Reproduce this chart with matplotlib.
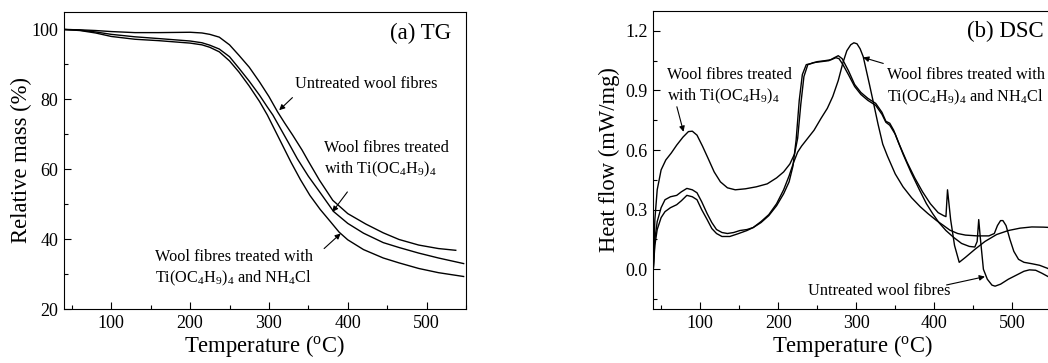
import matplotlib
matplotlib.use("Agg")
import matplotlib.pyplot as plt
from matplotlib.ticker import MultipleLocator

plt.rcParams['font.family'] = ['Liberation Serif', 'DejaVu Serif']
plt.rcParams['mathtext.fontset'] = 'custom'
plt.rcParams['mathtext.rm'] = 'Liberation Serif'
plt.rcParams['mathtext.it'] = 'Liberation Serif:italic'
plt.rcParams['mathtext.bf'] = 'Liberation Serif:bold'

# ---------------- TG data ----------------
tg_untreated_x = [40, 60, 80, 100, 130, 160, 200, 215, 225, 237, 250, 262, 275, 288, 300, 311, 320,
                  330, 342, 350, 364, 381, 400, 423, 445, 465, 490, 515, 537]
tg_untreated_y = [100, 99.9, 99.7, 99.4, 99.1, 99.1, 99.2, 99.0, 98.6, 97.8, 95.6, 92.6, 89.2, 85.0,
                  80.8, 76.4, 73.2, 69.8, 65.5, 62.3, 56.9, 51.1, 47.3, 44.3, 41.8, 39.9, 38.3, 37.3, 36.8]

tg_ti_x = [40, 60, 80, 100, 130, 160, 200, 215, 225, 237, 250, 262, 275, 288, 298, 305, 315, 325,
           336, 350, 365, 382, 400, 420, 445, 465, 490, 515, 547]
tg_ti_y = [100, 99.8, 99.3, 98.6, 97.9, 97.4, 96.7, 96.2, 95.5, 94.4, 92.2, 88.9, 85.2, 81.2, 77.8,
           75.5, 71.5, 67.5, 63.0, 58.0, 53.3, 47.9, 44.5, 41.7, 39.0, 37.6, 36.0, 34.6, 33.0]

tg_nh4_x = [40, 60, 80, 100, 130, 160, 200, 215, 225, 237, 250, 262, 275, 288, 298, 308, 318, 328,
            340, 352, 365, 378, 389, 400, 420, 445, 465, 490, 515, 547]
tg_nh4_y = [100, 99.7, 99.0, 98.0, 97.2, 96.8, 96.1, 95.6, 94.9, 93.6, 91.0, 87.8, 83.8, 79.4, 75.5,
            71.0, 66.5, 62.0, 57.0, 52.5, 48.5, 45.0, 42.0, 39.8, 37.0, 34.6, 33.2, 31.6, 30.4, 29.3]

# ---------------- DSC data ----------------
dsc_ti_x = [40, 42, 45, 50, 56, 63, 70, 78, 85, 90, 96, 103, 110, 118, 126, 135, 145, 158, 172, 186,
            198, 207, 215, 221, 225, 229, 233, 238, 245, 255, 265, 272, 277, 282, 290, 298, 306, 315,
            325, 333, 338, 343, 348, 355, 365, 375, 385, 395, 405, 412, 415, 417, 421, 426, 432, 440,
            452, 465, 480, 495, 510, 525, 540, 550]
dsc_ti_y = [0.0, 0.25, 0.40, 0.50, 0.55, 0.585, 0.625, 0.665, 0.693, 0.695, 0.675, 0.62, 0.56, 0.49,
            0.44, 0.41, 0.40, 0.405, 0.415, 0.43, 0.46, 0.49, 0.53, 0.58, 0.66, 0.83, 0.97, 1.03, 1.04,
            1.045, 1.05, 1.065, 1.075, 1.06, 1.00, 0.93, 0.89, 0.86, 0.835, 0.79, 0.745, 0.735, 0.70,
            0.63, 0.54, 0.46, 0.39, 0.33, 0.285, 0.27, 0.265, 0.40, 0.25, 0.12, 0.035, 0.06, 0.10,
            0.14, 0.175, 0.195, 0.207, 0.213, 0.212, 0.21]

dsc_untreated_x = [40, 42, 45, 50, 55, 62, 70, 76, 83, 90, 96, 102, 109, 115, 121, 128, 135, 143, 151,
                   160, 168, 178, 188, 198, 207, 214, 219, 223, 227, 231, 236, 242, 250, 260, 268, 274,
                   278, 283, 290, 298, 306, 315, 325, 333, 338, 343, 350, 360, 370, 381, 390, 398, 406,
                   415, 425, 435, 445, 452, 455, 457, 459, 463, 468, 474, 478, 485, 495, 505, 515, 522,
                   530, 538, 545, 550]
dsc_untreated_y = [0.0, 0.15, 0.24, 0.31, 0.35, 0.365, 0.372, 0.39, 0.407, 0.40, 0.385, 0.34, 0.28,
                   0.235, 0.20, 0.185, 0.18, 0.185, 0.195, 0.20, 0.21, 0.235, 0.27, 0.32, 0.38, 0.44,
                   0.52, 0.65, 0.85, 0.98, 1.03, 1.035, 1.045, 1.05, 1.055, 1.065, 1.06, 1.03, 0.98,
                   0.92, 0.88, 0.85, 0.825, 0.78, 0.74, 0.725, 0.68, 0.58, 0.49, 0.40, 0.33, 0.28,
                   0.235, 0.195, 0.16, 0.13, 0.115, 0.112, 0.14, 0.25, 0.16, 0.0, -0.05, -0.08, -0.085,
                   -0.075, -0.05, -0.03, -0.01, -0.003, -0.005, -0.02, -0.035, -0.045]

dsc_nh4_x = [40, 42, 45, 50, 55, 62, 70, 76, 83, 90, 96, 102, 109, 115, 121, 128, 138, 148, 160, 168,
             178, 188, 198, 207, 214, 220, 225, 230, 238, 246, 255, 263, 270, 277, 283, 288, 293, 297,
             301, 305, 309, 313, 317, 322, 328, 334, 340, 350, 360, 371, 382, 392, 403, 412, 420, 430,
             440, 455, 470, 477, 481, 485, 488, 492, 497, 502, 508, 515, 525, 535, 545, 550]
dsc_nh4_y = [0.0, 0.12, 0.2, 0.26, 0.29, 0.31, 0.325, 0.345, 0.372, 0.365, 0.35, 0.30, 0.25, 0.205,
             0.18, 0.165, 0.165, 0.178, 0.195, 0.21, 0.24, 0.275, 0.33, 0.40, 0.47, 0.54, 0.59, 0.62,
             0.66, 0.70, 0.76, 0.81, 0.87, 0.95, 1.04, 1.10, 1.13, 1.14, 1.135, 1.11, 1.07, 1.0, 0.93,
             0.84, 0.73, 0.63, 0.57, 0.48, 0.415, 0.36, 0.315, 0.28, 0.245, 0.22, 0.197, 0.18, 0.172,
             0.168, 0.168, 0.18, 0.22, 0.245, 0.245, 0.22, 0.15, 0.09, 0.05, 0.035, 0.028, 0.02,
             0.005, -0.005]

TI = r'Ti(OC$_4$H$_9$)$_4$'
NH4 = r'NH$_4$Cl'
lab_untreated = 'Untreated wool fibres'
lab_ti = 'Wool fibres treated\nwith ' + TI
lab_nh4 = 'Wool fibres treated with\n' + TI + ' and ' + NH4

W, H = 1048, 363
fig = plt.figure(figsize=(W / 100, H / 100), dpi=100)

ax1 = fig.add_axes([64 / W, (H - 309) / H, 402 / W, 297 / H])
ax2 = fig.add_axes([653.3 / W, (H - 309) / H, 398 / W, 298 / H])

lw = 1.0
for x, y in [(tg_untreated_x, tg_untreated_y), (tg_ti_x, tg_ti_y), (tg_nh4_x, tg_nh4_y)]:
    ax1.plot(x, y, color='black', lw=lw)
for x, y in [(dsc_ti_x, dsc_ti_y), (dsc_untreated_x, dsc_untreated_y), (dsc_nh4_x, dsc_nh4_y)]:
    ax2.plot(x, y, color='black', lw=lw)

tick_fs = 13
lab_fs = 16.3
ann_fs = 11.7

def style(ax):
    for s in ax.spines.values():
        s.set_linewidth(0.8)
    ax.tick_params(which='both', direction='in', top=False, right=False, labelsize=tick_fs,
                   width=0.8, pad=4)
    ax.tick_params(which='major', length=5)
    ax.tick_params(which='minor', length=3)
    ax.set_xlim(40, 550)
    ax.xaxis.set_major_locator(MultipleLocator(100))
    ax.xaxis.set_minor_locator(MultipleLocator(50))
    ax.set_xlabel(r'Temperature ($^{\mathrm{o}}$C)', fontsize=lab_fs, labelpad=1)

style(ax1)
ax1.set_ylim(20, 105)
ax1.yaxis.set_major_locator(MultipleLocator(20))
ax1.yaxis.set_minor_locator(MultipleLocator(10))
ax1.set_ylabel('Relative mass (%)', fontsize=lab_fs, labelpad=0)

style(ax2)
ax2.set_ylim(-0.2, 1.3)
ax2.yaxis.set_major_locator(MultipleLocator(0.3))
ax2.yaxis.set_minor_locator(MultipleLocator(0.15))
ax2.yaxis.set_major_formatter(matplotlib.ticker.FormatStrFormatter('%.1f'))
ax2.set_ylabel('Heat flow (mW/mg)', fontsize=lab_fs, labelpad=4)

arrow = dict(arrowstyle='-|>', color='black', lw=0.8, mutation_scale=8, shrinkA=0, shrinkB=0)

# TG annotations
ax1.text(530.5, 98.8, '(a) TG', fontsize=16.5, ha='right', va='center')
ax1.text(333, 84.5, lab_untreated, fontsize=ann_fs, ha='left', va='center')
ax1.annotate('', xy=(313, 76.9), xytext=(329.8, 80.5), arrowprops=arrow)
ax1.text(370, 62.8, lab_ti, fontsize=ann_fs, ha='left', va='center', linespacing=1.3)
ax1.annotate('', xy=(380.5, 47.8), xytext=(399.5, 53.5), arrowprops=arrow)
ax1.text(155.8, 31.6, lab_nh4, fontsize=ann_fs, ha='left', va='center', linespacing=1.3)
ax1.annotate('', xy=(391, 41.6), xytext=(370, 37.3), arrowprops=arrow)

# DSC annotations
ax2.text(441.5, 1.195, '(b) DSC', fontsize=16.5, ha='left', va='center')
ax2.text(57.4, 0.92, lab_ti, fontsize=ann_fs, ha='left', va='center', linespacing=1.3)
ax2.annotate('', xy=(78.7, 0.692), xytext=(70.2, 0.818), arrowprops=arrow)
ax2.text(339, 0.918, lab_nh4, fontsize=ann_fs, ha='left', va='center', linespacing=1.3)
ax2.annotate('', xy=(309, 1.066), xytext=(334.7, 1.036), arrowprops=arrow)
ax2.text(238.7, -0.107, lab_untreated, fontsize=ann_fs, ha='left', va='center')
ax2.annotate('', xy=(464.9, -0.037), xytext=(415.8, -0.079), arrowprops=arrow)

fig.savefig('out.png', dpi=100)
